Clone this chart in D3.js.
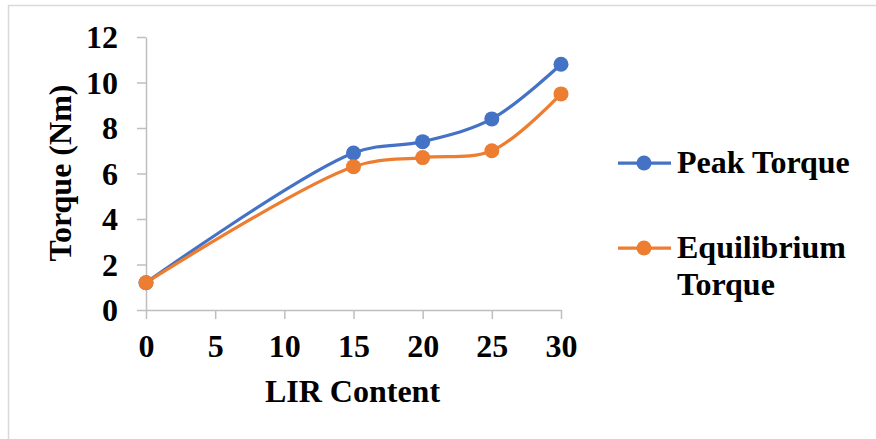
<!DOCTYPE html>
<html>
<head>
<meta charset="utf-8">
<script src="https://cdn.jsdelivr.net/npm/d3@7"></script>
<style>
  html, body { margin: 0; padding: 0; background: #fff; }
  svg { display: block; }
  text { font-family: "Liberation Serif", "Times New Roman", serif; font-weight: bold; fill: #000; }
</style>
</head>
<body>
<svg id="chart" width="876" height="439"></svg>
<script>
// LIR content levels and measured torques (Nm)
const lirContent = [0, 15, 20, 25, 30];
const peakTorque = [1.2, 6.9, 7.4, 8.4, 10.8];
const equilibriumTorque = [1.2, 6.3, 6.7, 7.0, 9.5];
const xTicks = [0, 5, 10, 15, 20, 25, 30];
const yTicks = [0, 2, 4, 6, 8, 10, 12];

const series = [
  { name: ["Peak Torque"], values: peakTorque, color: "#4472C4" },
  { name: ["Equilibrium", "Torque"], values: equilibriumTorque, color: "#ED7D31" }
];

const svg = d3.select("#chart");
const W = 876, H = 439;
const plot = { left: 146, right: 561, top: 37, bottom: 310 };

// Outer frame (open on the right and bottom edges)
svg.append("rect")
  .attr("x", 8.5).attr("y", 5.5)
  .attr("width", W + 10).attr("height", H + 10)
  .attr("fill", "none").attr("stroke", "#d9d9d9").attr("stroke-width", 1.5);

const x = d3.scaleLinear().domain([0, 30]).range([plot.left, plot.right]);
const y = d3.scaleLinear().domain([0, 12]).range([plot.bottom, plot.top]);

// Axes
const xAxis = svg.append("g")
  .attr("transform", `translate(0,${plot.bottom})`)
  .call(d3.axisBottom(x).tickValues(xTicks).tickSize(9).tickPadding(16).tickSizeOuter(0));
const yAxis = svg.append("g")
  .attr("transform", `translate(${plot.left},0)`)
  .call(d3.axisLeft(y).tickValues(yTicks).tickSize(9).tickPadding(19).tickSizeOuter(0));

[xAxis, yAxis].forEach(g => {
  g.attr("font-family", null).attr("font-size", null);
  g.select(".domain").attr("stroke", "#bfbfbf").attr("stroke-width", 1.5);
  g.selectAll(".tick line").attr("stroke", "#bfbfbf").attr("stroke-width", 1.5);
  g.selectAll(".tick text")
    .style("font-family", "'Liberation Serif', 'Times New Roman', serif")
    .style("font-weight", "bold").style("font-size", "32px").attr("fill", "#000");
});
xAxis.selectAll(".tick text").attr("dy", "0.68em");
yAxis.selectAll(".tick text").attr("dy", "0.34em");

// Axis titles
svg.append("text")
  .attr("x", (plot.left + plot.right) / 2 - 1).attr("y", 402)
  .attr("text-anchor", "middle").style("font-size", "32px")
  .text("LIR Content");
svg.append("text")
  .attr("transform", "translate(71,173) rotate(-90)")
  .attr("text-anchor", "middle").style("font-size", "32px")
  .text("Torque (Nm)");

// Smoothed series lines with markers
const line = d3.line()
  .x((d, i) => x(lirContent[i]))
  .y(d => y(d))
  .curve(d3.curveCatmullRom.alpha(0.5));

series.forEach(s => {
  svg.append("path")
    .attr("d", line(s.values))
    .attr("fill", "none").attr("stroke", s.color)
    .attr("stroke-width", 3.25).attr("stroke-linejoin", "round").attr("stroke-linecap", "round");
});
series.forEach(s => {
  svg.append("g").selectAll("circle")
    .data(s.values).join("circle")
    .attr("cx", (d, i) => x(lirContent[i]))
    .attr("cy", d => y(d))
    .attr("r", 7.5)
    .attr("fill", s.color);
});

// Legend
const legendY = [163, 248];
series.forEach((s, k) => {
  const g = svg.append("g").attr("transform", `translate(0,${legendY[k]})`);
  g.append("line").attr("x1", 618).attr("x2", 671).attr("y1", 0).attr("y2", 0)
    .attr("stroke", s.color).attr("stroke-width", 3.25);
  g.append("circle").attr("cx", 644).attr("cy", 0).attr("r", 7.5).attr("fill", s.color);
  s.name.forEach((t, j) => {
    g.append("text").attr("x", 677).attr("y", 10 + j * 37)
      .style("font-size", "32px").text(t);
  });
});
</script>
</body>
</html>
